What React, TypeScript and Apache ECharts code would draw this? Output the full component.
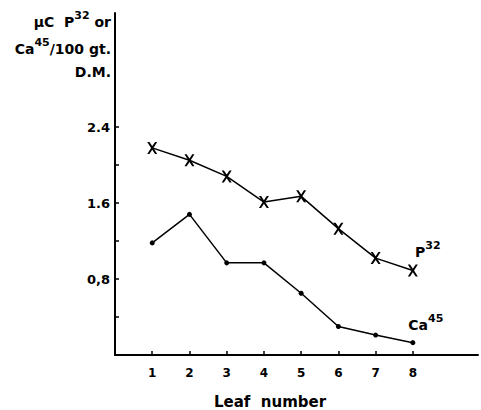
import React, { useEffect, useRef } from "react";
import * as echarts from "echarts";

const leafNumbers = [1, 2, 3, 4, 5, 6, 7, 8];
const p32Values = [2.18, 2.05, 1.88, 1.61, 1.67, 1.33, 1.02, 0.89];
const ca45Values = [1.18, 1.48, 0.97, 0.97, 0.65, 0.3, 0.21, 0.13];
const yLabelValues = [0.8, 1.6, 2.4];
const yTickValues = [0.4, 0.8, 1.2, 1.6, 2.0, 2.4];

const FONT = "DejaVu Sans";
const crossPath =
  "path://M0,0 L2.2,0 L5,4.2 L7.8,0 L10,0 L6.2,6 L10,12 L7.8,12 L5,7.8 L2.2,12 L0,12 L3.8,6 Z";

const supRich = {
  b: { fontFamily: FONT, fontWeight: "bold", fontSize: 14, color: "#000", verticalAlign: "bottom", lineHeight: 19 },
  s: { fontFamily: FONT, fontWeight: "bold", fontSize: 11, color: "#000", verticalAlign: "top", lineHeight: 19 },
};

export default function App() {
  const ref = useRef<HTMLDivElement>(null);
  useEffect(() => {
    if (!ref.current) return;
    const chart = echarts.init(ref.current, null, { renderer: "svg" });
    const p32Data = leafNumbers.map((x, i) => {
      const d: any = { value: [x, p32Values[i]] };
      if (i === leafNumbers.length - 1) {
        d.label = {
          show: true,
          position: "top",
          offset: [15, 0],
          formatter: "{b|P}{s|32}",
          rich: supRich,
        };
      }
      return d;
    });
    const caData = leafNumbers.map((x, i) => {
      const d: any = { value: [x, ca45Values[i]] };
      if (i === leafNumbers.length - 1) {
        d.label = {
          show: true,
          position: "top",
          offset: [13, -3],
          formatter: "{b|Ca}{s|45}",
          rich: supRich,
        };
      }
      return d;
    });
    chart.setOption({
      animation: false,
      backgroundColor: "#fff",
      grid: { left: 115, right: 3, top: 13, bottom: 55 },
      xAxis: {
        type: "value",
        min: 0,
        max: 9.75,
        interval: 1,
        splitLine: { show: false },
        axisLine: { lineStyle: { color: "#000", width: 2 } },
        axisTick: { inside: true, length: 4, customValues: leafNumbers, lineStyle: { color: "#000", width: 1.5 } },
        axisLabel: {
          customValues: leafNumbers,
          margin: 12,
          color: "#000",
          fontFamily: FONT,
          fontWeight: "bold",
          fontSize: 12,
        },
      },
      yAxis: {
        type: "value",
        min: 0,
        max: 3.6,
        interval: 0.4,
        splitLine: { show: false },
        axisLine: { show: true, lineStyle: { color: "#000", width: 2 } },
        axisTick: { show: true, inside: true, length: 4, customValues: yTickValues, lineStyle: { color: "#000", width: 1.5 } },
        axisLabel: {
          customValues: yLabelValues,
          margin: 5,
          color: "#000",
          fontFamily: FONT,
          fontWeight: "bold",
          fontSize: 13,
          formatter: (v: number) => (Math.abs(v - 0.8) < 1e-6 ? "0,8" : v.toFixed(1)),
        },
      },
      graphic: [
        {
          type: "text",
          right: 481 - 111,
          top: 10,
          style: { text: "{b|µC  P}{s|32}{b| or}", rich: supRich },
        },
        {
          type: "text",
          right: 481 - 111,
          top: 37,
          style: { text: "{b|Ca}{s|45}{b|/100 gt.}", rich: supRich },
        },
        {
          type: "text",
          right: 481 - 111,
          top: 65,
          style: { text: "D.M.", fill: "#000", font: `bold 14px "${FONT}"` },
        },
        {
          type: "text",
          left: 214,
          top: 394,
          style: { text: "Leaf  number", fill: "#000", font: `bold 15px "${FONT}"` },
        },
      ],
      series: [
        {
          type: "line",
          data: p32Data,
          symbol: crossPath,
          symbolSize: [10, 12],
          lineStyle: { color: "#000", width: 1.5 },
          itemStyle: { color: "#000" },
        },
        {
          type: "line",
          data: caData,
          symbol: "circle",
          symbolSize: 5,
          lineStyle: { color: "#000", width: 1.5 },
          itemStyle: { color: "#000" },
        },
      ],
    });
    return () => chart.dispose();
  }, []);
  return (
    <div
      ref={ref}
      style={{ position: "fixed", left: 0, top: 0, width: 481, height: 410, background: "#fff" }}
    />
  );
}
